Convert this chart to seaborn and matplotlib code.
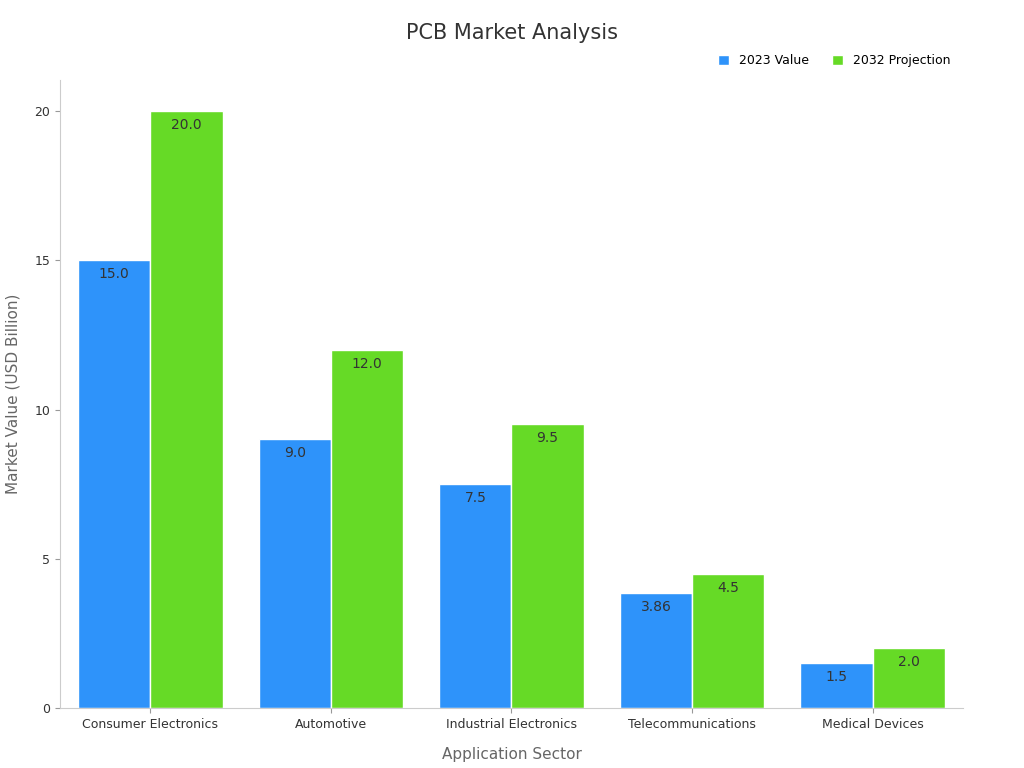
import pandas as pd
import seaborn as sns
import matplotlib.pyplot as plt

sectors = ['Consumer Electronics', 'Automotive', 'Industrial Electronics',
           'Telecommunications', 'Medical Devices']
value_2023 = [15.0, 9.0, 7.5, 3.86, 1.5]
value_2032 = [20.0, 12.0, 9.5, 4.5, 2.0]
labels_2023 = ['15.0', '9.0', '7.5', '3.86', '1.5']
labels_2032 = ['20.0', '12.0', '9.5', '4.5', '2.0']

df = pd.DataFrame({
    'sector': sectors * 2,
    'value': value_2023 + value_2032,
    'series': ['2023 Value'] * 5 + ['2032 Projection'] * 5,
})

fig = plt.figure(figsize=(10.24, 7.68), dpi=100)
ax = fig.add_axes([0.0586, 0.078, 0.8818, 0.818])
sns.barplot(data=df, x='sector', y='value', hue='series', ax=ax,
            palette=['#2E93FA', '#66DA26'], width=0.8, saturation=1,
            edgecolor='white', linewidth=1)

for cont, labs in zip(ax.containers, [labels_2023, labels_2032]):
    ax.bar_label(cont, labels=labs, padding=-15, fontsize=10, color='#333333')

ax.set_xlim(-0.5, 4.5)
ax.set_ylim(0, 21.04)
ax.set_yticks([0, 5, 10, 15, 20])
for s in ['top', 'right']:
    ax.spines[s].set_visible(False)
for s in ['left', 'bottom']:
    ax.spines[s].set_color('#cccccc')
ax.tick_params(colors='#333333', labelsize=9)
ax.tick_params(axis='both', color='#999999')
ax.set_xlabel('Application Sector', fontsize=11, color='#666666', labelpad=12)
ax.set_ylabel('Market Value (USD Billion)', fontsize=11, color='#666666', labelpad=10)
fig.suptitle('PCB Market Analysis', fontsize=15, color='#333333', y=0.97)

handles, lbls = ax.get_legend_handles_labels()
ax.legend(handles, lbls, loc='lower right', bbox_to_anchor=(1.0, 1.0), ncol=2,
          frameon=False, fontsize=9, handlelength=0.9, handleheight=0.9,
          columnspacing=1.8, borderaxespad=0.6)

fig.savefig('out.png', dpi=100)
